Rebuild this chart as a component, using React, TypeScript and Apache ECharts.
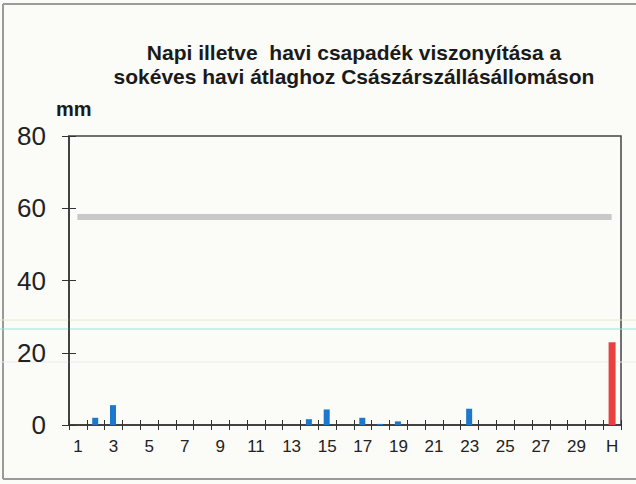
import React, { useEffect, useRef } from "react";
import * as echarts from "echarts";

const dayLabels = ["1","2","3","4","5","6","7","8","9","10","11","12","13","14","15","16","17","18","19","20","21","22","23","24","25","26","27","28","29","30","H"];
const dailyValues = [0, 2.0, 5.5, 0, 0, 0, 0, 0, 0, 0, 0, 0, 0, 1.6, 4.3, 0, 2.0, 0.3, 1.0, 0, 0, 0, 4.5, 0, 0, 0, 0, 0, 0, 0, null];
const monthlyTotal = 22.9;
const longTermAverage = 57.7;
const yTicks = [0, 20, 40, 60, 80];

export default function App() {
  const ref = useRef<HTMLDivElement>(null);
  useEffect(() => {
    if (!ref.current) return;
    const chart = echarts.init(ref.current, null, { renderer: "svg" });
    const monthlyData = dayLabels.map((_, i) => (i === dayLabels.length - 1 ? monthlyTotal : null));
    const font = "Arial, 'Liberation Sans', sans-serif";
    chart.setOption({
      animation: false,
      backgroundColor: "#fbfbf8",
      title: {
        text: "Napi illetve  havi csapadék viszonyítása a\nsokéves havi átlaghoz Császárszállásállomáson",
        left: 349,
        textAlign: "center",
        top: 35,
        textStyle: { fontFamily: font, fontSize: 21, fontWeight: "bold", color: "#1a1a1a", lineHeight: 24 },
      },
      graphic: [
        { type: "line", shape: { x1: 3, y1: 4, x2: 3, y2: 479 }, style: { stroke: "#9a9a9a", lineWidth: 2 } },
        { type: "line", shape: { x1: 3, y1: 4, x2: 636, y2: 4 }, style: { stroke: "#9a9a9a", lineWidth: 2 } },
        { type: "line", shape: { x1: 3, y1: 479, x2: 636, y2: 479 }, style: { stroke: "#9a9a9a", lineWidth: 2 } },
        { type: "line", shape: { x1: 0, y1: 320, x2: 636, y2: 320 }, style: { stroke: "#e6ecc8", lineWidth: 1 } },
        { type: "line", shape: { x1: 0, y1: 329, x2: 636, y2: 329 }, style: { stroke: "#9fe3dc", lineWidth: 1 } },
        { type: "line", shape: { x1: 0, y1: 362, x2: 636, y2: 362 }, style: { stroke: "#ececec", lineWidth: 1 } },
        { type: "text", left: 56, top: 99, style: { text: "mm", font: "bold 20px Arial, 'Liberation Sans', sans-serif", fill: "#1a1a1a" } },
      ],
      grid: {
        left: 69, right: 15, top: 136, bottom: 59,
        show: true, borderColor: "#444", borderWidth: 1.5, backgroundColor: "transparent",
      },
      xAxis: [
        {
          type: "category", data: dayLabels, boundaryGap: true,
          axisLine: { lineStyle: { color: "#333", width: 1.5 } },
          axisTick: { show: true, interval: 0, length: 5, lineStyle: { color: "#333" } },
          axisLabel: { interval: 1, margin: 13, fontFamily: font, fontSize: 17, color: "#222" },
        },
        {
          type: "category", data: dayLabels, boundaryGap: true, position: "bottom", gridIndex: 0,
          axisLine: { show: false },
          axisTick: { show: true, inside: true, interval: 0, length: 5, lineStyle: { color: "#333" } },
          axisLabel: { show: false },
        },
      ],
      yAxis: [
        {
          type: "value", min: yTicks[0], max: yTicks[yTicks.length - 1], interval: 20,
          axisLine: { show: true, lineStyle: { color: "#333", width: 1.5 } },
          axisTick: { show: true, length: 7, lineStyle: { color: "#333" } },
          splitLine: { show: false },
          axisLabel: { margin: 23, fontFamily: font, fontSize: 26, color: "#222" },
        },
        {
          type: "value", min: yTicks[0], max: yTicks[yTicks.length - 1], interval: 20, position: "left",
          axisLine: { show: false },
          axisTick: { show: true, inside: true, length: 7, lineStyle: { color: "#333" } },
          splitLine: { show: false },
          axisLabel: { show: false },
        },
      ],
      series: [
        {
          type: "bar", data: dailyValues, barWidth: 6, barGap: "-100%",
          itemStyle: { color: "#1b78cc" },
          markLine: {
            silent: true, symbol: "none",
            lineStyle: { color: "#c8c8c8", width: 6, type: "solid" },
            label: { show: false },
            data: [[{ coord: [dayLabels[0], longTermAverage] }, { coord: [dayLabels[dayLabels.length - 1], longTermAverage] }]],
          },
        },
        {
          type: "bar", data: monthlyData, barWidth: 7, barGap: "-100%",
          itemStyle: { color: "#e8413f" },
        },
      ],
    });
    return () => chart.dispose();
  }, []);
  return <div ref={ref} style={{ position: "absolute", left: 0, top: 0, width: 636, height: 484 }} />;
}
